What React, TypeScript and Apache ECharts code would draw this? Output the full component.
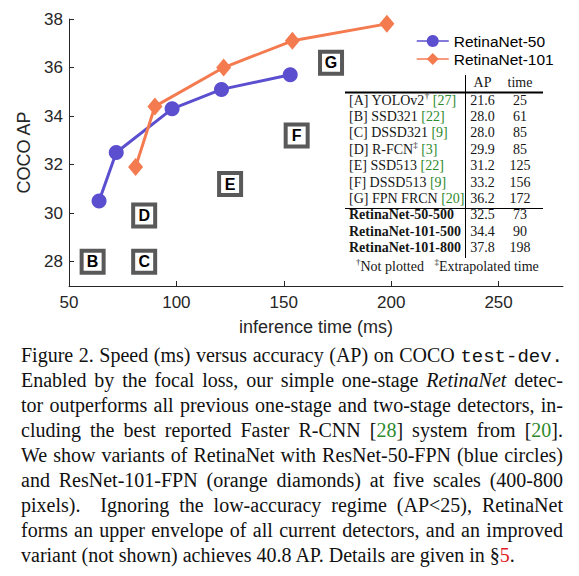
import React, { useEffect, useRef } from "react";
import * as echarts from "echarts";

// ---- data ----
const r50Time = [64, 72, 98, 121, 153];
const r50AP = [30.5, 32.5, 34.3, 35.1, 35.7];
const r101Time = [81, 90, 122, 154, 198];
const r101AP = [31.9, 34.4, 36.0, 37.1, 37.8];

const detLetters = ["A", "B", "C", "D", "E", "F", "G"];
const detNames = ["YOLOv2", "SSD321", "DSSD321", "R-FCN", "SSD513", "DSSD513", "FPN FRCN"];
const detMarks = ["†", "", "", "‡", "", "", ""];
const detRefs = ["27", "22", "9", "3", "22", "9", "20"];
const detAP = ["21.6", "28.0", "28.0", "29.9", "31.2", "33.2", "36.2"];
const detTime = ["25", "61", "85", "85", "125", "156", "172"];
const detPlotted = [false, true, true, true, true, true, true];

const retinaNames = ["RetinaNet-50-500", "RetinaNet-101-500", "RetinaNet-101-800"];
const retinaAP = ["32.5", "34.4", "37.8"];
const retinaTime = ["73", "90", "198"];

const xTicks = [50, 100, 150, 200, 250];
const yTicks = [28, 30, 32, 34, 36, 38];

const BLUE = "#5b4fcf";
const ORANGE = "#f47a50";
const GREEN = "#2d8a2d";
const SANS = "'Liberation Sans', Arial, Helvetica, sans-serif";
const SERIF = "'Liberation Serif', 'Times New Roman', serif";
const MONO = "'Liberation Mono', 'Courier New', monospace";
const AXIS = "#262626";

function buildTable(): any[] {
  const els: any[] = [];
  const nameX = 349;
  const apX = 482.5;
  const timeX = 520;
  const row0 = 100;
  const rowH = 16.4;
  const base = { fontFamily: SERIF, fontSize: 14, fill: "#161616" };
  const rich = {
    n: { fontFamily: SERIF, fontSize: 14, fill: "#161616", lineHeight: 18 },
    b: { fontFamily: SERIF, fontSize: 14, fill: "#161616", lineHeight: 18, fontWeight: "bold" },
    g: { fontFamily: SERIF, fontSize: 14, fill: GREEN, lineHeight: 18 },
    s: { fontFamily: SERIF, fontSize: 9, fill: "#161616", lineHeight: 9, verticalAlign: "top" },
  };
  els.push({ type: "text", x: apX, y: 82, style: { ...base, text: "AP", align: "center", verticalAlign: "middle" } });
  els.push({ type: "text", x: timeX, y: 82, style: { ...base, text: "time", align: "center", verticalAlign: "middle" } });
  const rows: { label: string; ap: string; t: string }[] = [];
  detLetters.forEach((L, i) => {
    const mark = detMarks[i] ? `{s|${detMarks[i]}}` : "";
    rows.push({ label: `{n|[${L}] ${detNames[i]}}${mark}{n| }{g|[${detRefs[i]}]}`, ap: detAP[i], t: detTime[i] });
  });
  retinaNames.forEach((nm, i) => {
    rows.push({ label: `{b|${nm}}`, ap: retinaAP[i], t: retinaTime[i] });
  });
  rows.forEach((r, i) => {
    const y = row0 + i * rowH;
    els.push({ type: "text", x: nameX, y, style: { ...base, text: r.label, rich, align: "left", verticalAlign: "middle" } });
    els.push({ type: "text", x: apX, y, style: { ...base, text: r.ap, align: "center", verticalAlign: "middle" } });
    els.push({ type: "text", x: timeX, y, style: { ...base, text: r.t, align: "center", verticalAlign: "middle" } });
  });
  els.push({
    type: "text",
    x: 356,
    y: 266,
    style: { ...base, text: "{s|†}{n|Not plotted   }{s|‡}{n|Extrapolated time}", rich, align: "left", verticalAlign: "middle" },
  });
  els.push({ type: "line", shape: { x1: 465.5, y1: 75, x2: 465.5, y2: 258 }, style: { stroke: "#000", lineWidth: 1 } });
  els.push({ type: "line", shape: { x1: 345, y1: 92.5, x2: 543, y2: 92.5 }, style: { stroke: "#000", lineWidth: 1.8 } });
  els.push({ type: "line", shape: { x1: 345, y1: 208.5, x2: 543, y2: 208.5 }, style: { stroke: "#000", lineWidth: 1 } });
  return els;
}

function Chart() {
  const ref = useRef<HTMLDivElement>(null);
  useEffect(() => {
    if (!ref.current) return;
    const chart = echarts.init(ref.current, undefined, { renderer: "svg" });
    const boxData = detLetters
      .map((L, i) => ({ L, i }))
      .filter((d) => detPlotted[d.i])
      .map((d) => [Number(detTime[d.i]), Number(detAP[d.i]), d.L]);
    chart.setOption({
      animation: false,
      grid: { left: 69, right: 16, top: 19, bottom: 290, containLabel: false },
      xAxis: {
        type: "value",
        min: 50,
        max: 280,
        name: "inference time (ms)",
        nameLocation: "middle",
        nameGap: 32,
        nameTextStyle: { fontFamily: SANS, fontSize: 18, color: AXIS },
        axisLine: { lineStyle: { color: AXIS, width: 1 } },
        axisTick: { show: true, inside: true, length: 5, customValues: xTicks, lineStyle: { color: AXIS } },
        axisLabel: { customValues: xTicks, fontFamily: SANS, fontSize: 17, color: AXIS, margin: 8 },
        splitLine: { show: false },
      },
      yAxis: {
        type: "value",
        min: 27,
        max: 38,
        name: "COCO AP",
        nameLocation: "middle",
        nameGap: 30,
        nameTextStyle: { fontFamily: SANS, fontSize: 18, color: AXIS },
        axisLine: { show: true, lineStyle: { color: AXIS, width: 1 } },
        axisTick: { show: true, inside: true, length: 5, customValues: yTicks, lineStyle: { color: AXIS } },
        axisLabel: { customValues: yTicks, fontFamily: SANS, fontSize: 17, color: AXIS, margin: 6 },
        splitLine: { show: false },
      },
      legend: {
        data: ["RetinaNet-50", "RetinaNet-101"],
        orient: "vertical",
        left: 416,
        top: 33,
        padding: 0,
        itemWidth: 32,
        itemHeight: 15,
        itemGap: 2,
        textStyle: { fontFamily: SANS, fontSize: 15.5, color: "#000" },
        lineStyle: { width: 1.5 },
      },
      graphic: buildTable(),
      series: [
        {
          name: "detectors",
          type: "scatter",
          data: boxData,
          symbol: "rect",
          symbolSize: 22,
          itemStyle: { color: "#fff", borderColor: "#595959", borderWidth: 4, opacity: 1 },
          label: {
            show: true,
            position: "inside",
            formatter: (p: any) => p.value[2],
            fontFamily: SANS,
            fontWeight: "bold",
            fontSize: 16,
            color: "#000",
          },
          z: 2,
        },
        {
          name: "RetinaNet-50",
          type: "line",
          data: r50Time.map((t, i) => [t, r50AP[i]]),
          symbol: "circle",
          symbolSize: 15,
          lineStyle: { width: 3, color: BLUE },
          itemStyle: { color: BLUE },
          z: 3,
        },
        {
          name: "RetinaNet-101",
          type: "line",
          data: r101Time.map((t, i) => [t, r101AP[i]]),
          symbol: "diamond",
          symbolSize: [15, 18],
          lineStyle: { width: 3, color: ORANGE },
          itemStyle: { color: ORANGE },
          z: 4,
        },
      ],
    });
    return () => chart.dispose();
  }, []);
  return <div ref={ref} style={{ position: "absolute", left: 0, top: 0, width: 579, height: 576 }} />;
}

const lineStyle: React.CSSProperties = {
  textAlign: "justify",
  textAlignLast: "justify",
  height: 25,
  lineHeight: "25px",
};
const green: React.CSSProperties = { color: GREEN };

export default function App() {
  return (
    <div style={{ position: "absolute", left: 0, top: 0, width: 579, height: 576, background: "#fff", overflow: "hidden" }}>
      <Chart />
      <div
        style={{
          position: "absolute",
          left: 21,
          top: 343,
          width: 542,
          fontFamily: SERIF,
          fontSize: 20,
          color: "#111",
        }}
      >
        <div style={lineStyle}>
          Figure 2. Speed (ms) versus accuracy (AP) on COCO <span style={{ fontFamily: MONO, fontSize: 19 }}>test-dev.</span>
        </div>
        <div style={lineStyle}>
          Enabled by the focal loss, our simple one-stage <i>RetinaNet</i> detec-
        </div>
        <div style={lineStyle}>tor outperforms all previous one-stage and two-stage detectors, in-</div>
        <div style={lineStyle}>
          cluding the best reported Faster R-CNN [<span style={green}>28</span>] system from [<span style={green}>20</span>].
        </div>
        <div style={lineStyle}>We show variants of RetinaNet with ResNet-50-FPN (blue circles)</div>
        <div style={lineStyle}>and ResNet-101-FPN (orange diamonds) at five scales (400-800</div>
        <div style={lineStyle}>pixels). &nbsp;Ignoring the low-accuracy regime (AP&lt;25), RetinaNet</div>
        <div style={lineStyle}>forms an upper envelope of all current detectors, and an improved</div>
        <div style={{ ...lineStyle, textAlign: "left", textAlignLast: "left" }}>
          variant (not shown) achieves 40.8 AP. Details are given in §<span style={{ color: "#e0201c" }}>5</span>.
        </div>
      </div>
    </div>
  );
}
